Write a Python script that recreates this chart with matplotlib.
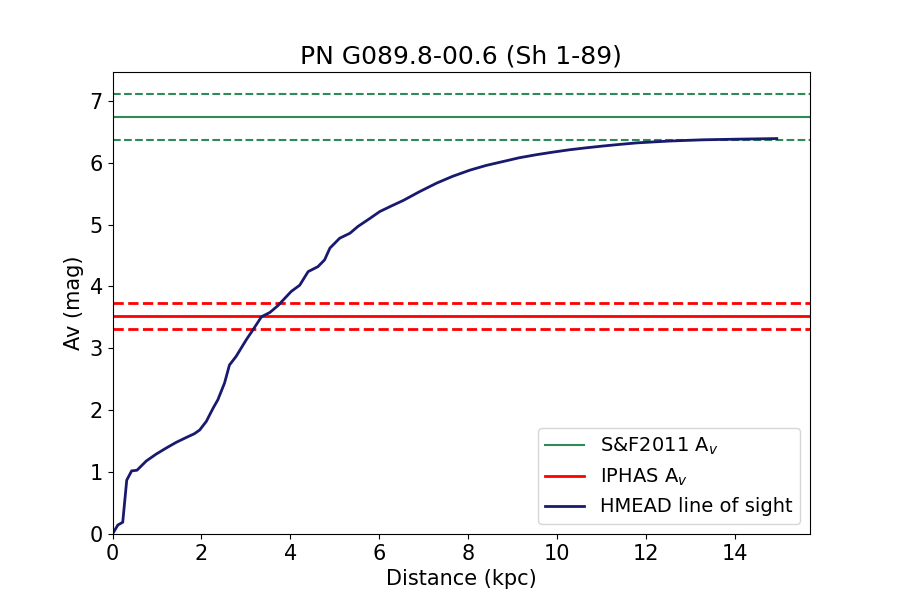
import numpy as np
import matplotlib
matplotlib.use("Agg")
import matplotlib.pyplot as plt

titulo = "PN G089.8-00.6 (Sh 1-89)"

# extincao de S&F2011 e IPHAS (valor, erro inferior, erro superior)
sf_av = 6.74
sf_lo = 6.37
sf_hi = 7.11
iphas_av = 3.53
iphas_lo = 3.32
iphas_hi = 3.73

# linha de visada HMEAD
distancia = [0.0, 0.12, 0.23, 0.32, 0.43, 0.55, 0.76, 0.98, 1.21, 1.43,
             1.66, 1.84, 1.96, 2.11, 2.26, 2.37, 2.52, 2.63, 2.78, 3.01,
             3.16, 3.35, 3.54, 3.72, 4.02, 4.21, 4.40, 4.62, 4.77, 4.89,
             5.11, 5.34, 5.52, 5.79, 6.01, 6.27, 6.54, 6.90, 7.29, 7.65,
             8.04, 8.40, 8.79, 9.15, 9.54, 9.90, 10.29, 10.65, 11.04, 11.40,
             11.79, 12.15, 12.54, 12.90, 13.29, 13.65, 14.04, 14.50, 14.94]
av = [0.0, 0.145, 0.19, 0.87, 1.02, 1.03, 1.18, 1.29, 1.39, 1.48,
      1.56, 1.62, 1.68, 1.82, 2.03, 2.17, 2.44, 2.73, 2.87, 3.14,
      3.30, 3.51, 3.58, 3.69, 3.92, 4.02, 4.24, 4.32, 4.43, 4.62,
      4.78, 4.86, 4.97, 5.10, 5.21, 5.30, 5.39, 5.53, 5.67, 5.78,
      5.88, 5.955, 6.02, 6.08, 6.13, 6.17, 6.21, 6.24, 6.27, 6.295,
      6.32, 6.335, 6.35, 6.36, 6.37, 6.375, 6.38, 6.385, 6.39]

fig, ax = plt.subplots(figsize=(9, 6), dpi=100)

ax.axhline(sf_av, color="seagreen", lw=1.5, label="S&F2011 A$_v$")
ax.axhline(sf_lo, color="seagreen", lw=1.5, ls="--")
ax.axhline(sf_hi, color="seagreen", lw=1.5, ls="--")

ax.axhline(iphas_av, color="red", lw=2, label="IPHAS A$_v$")
ax.axhline(iphas_lo, color="red", lw=2, ls="--")
ax.axhline(iphas_hi, color="red", lw=2, ls="--")

ax.plot(distancia, av, color="midnightblue", lw=2, label="HMEAD line of sight")

ax.set_xlim(0, max(distancia) * 1.05)
ax.set_ylim(0, sf_hi * 1.05)
ax.set_xlabel("Distance (kpc)", fontsize=15)
ax.set_ylabel("Av (mag)", fontsize=15)
ax.set_title(titulo, fontsize=18)
ax.tick_params(labelsize=15)
ax.legend(loc="lower right", fontsize=14)

fig.savefig("out.png")
